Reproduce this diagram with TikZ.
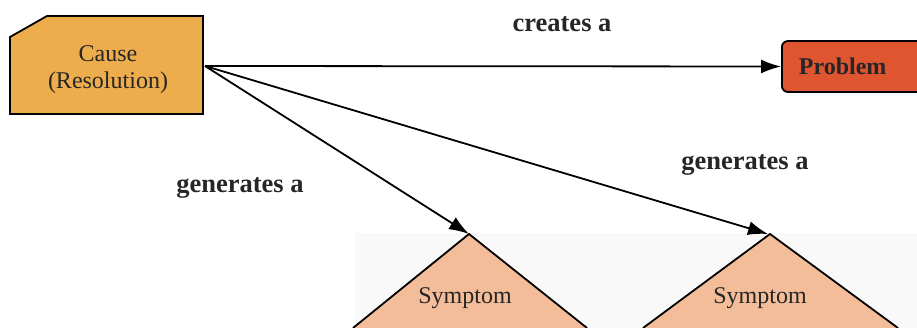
\documentclass[tikz,border=0pt]{standalone}
\usepackage{fontspec}
\setmainfont{Liberation Serif}
\usetikzlibrary{arrows.meta}
\definecolor{causefill}{HTML}{EEAD4C}
\definecolor{problemfill}{HTML}{DF5530}
\definecolor{symptomfill}{HTML}{F4BD9A}
\definecolor{panel}{HTML}{F9F9F9}
\begin{document}
\begin{tikzpicture}[x=1pt,y=-1pt,
  conn/.style={line width=1.8pt,-{Latex[length=20pt,width=14pt]}},
  lbl/.style={font=\fontsize{26.5}{28}\selectfont\bfseries,text=black!85},
  body/.style={font=\fontsize{24}{27}\selectfont,align=center,text=black!85}]
\useasboundingbox (0,0) rectangle (917,328);
\clip (0,0) rectangle (917,328);
% light panel behind the symptoms
\fill[panel] (355,233) rectangle (917,328);
% cause box with chamfered corner
\draw[line width=1.8pt,fill=causefill] (10,37) -- (47,16) -- (203,16) -- (203,114) -- (10,114) -- cycle;
\node[body] (cause) at (108,70) {Cause\\(Resolution)};
\coordinate (c) at (205,66);
% problem box
\node[draw,line width=1.8pt,fill=problemfill,rounded corners=6pt,minimum width=150pt,minimum height=51pt,anchor=west,
      font=\fontsize{24}{26}\selectfont\bfseries,text=black!85,inner sep=0pt,text width=134pt] (problem) at (781,66.5) {\hspace*{9pt}Problem};
% symptom triangles
\draw[line width=1.8pt,fill=symptomfill] (353,328) -- (469,234) -- (587,328);
\draw[line width=1.8pt,fill=symptomfill] (643,328) -- (770,234) -- (898,328);
\coordinate (s1) at (469,234);
\coordinate (s2) at (768,234);
\node[body] (sym1) at (465,298) {Symptom};
\node[body] (sym2) at (760,298) {Symptom};
% connectors
\draw[conn] (c) -- (problem.west);
\draw[conn] (c) -- (s1);
\draw[conn] (c) -- (s2);
\node[lbl] (l1) at (562,24) {creates a};
\node[lbl] (l2) at (240,188) {generates a};
\node[lbl] (l3) at (745,165) {generates a};
\end{tikzpicture}
\end{document}
